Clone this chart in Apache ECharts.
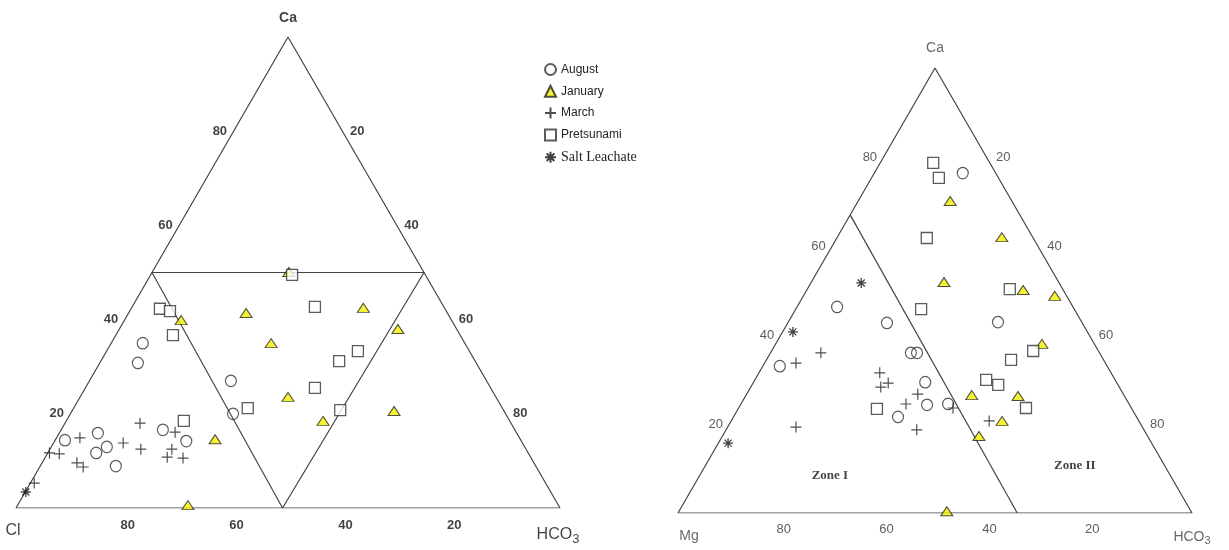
<!DOCTYPE html>
<html>
<head>
<meta charset="utf-8">
<script src="https://cdn.jsdelivr.net/npm/echarts@6/dist/echarts.min.js"></script>
<style>
  html, body { margin: 0; padding: 0; background: #fff; }
  #chart { width: 1229px; height: 550px; }
</style>
</head>
<body>
<div id="chart"></div>
<script>
// values, each point is [Ca %, HCO3 %], the third part is 100 - Ca - HCO3
// left diagram: Ca / Cl / HCO3
const augustL = [[35.0, 5.8], [30.8, 7.0], [27.0, 26.0], [20.0, 29.9], [14.4, 1.8], [15.9, 7.1], [13.0, 10.2], [11.7, 8.9], [8.9, 13.9], [16.6, 18.7], [14.2, 24.2]]
const januaryL = [[50.1, 25.1], [39.9, 10.4], [41.4, 21.6], [42.5, 42.6], [38.0, 51.2], [35.0, 29.4], [23.6, 38.2], [20.6, 59.2], [18.5, 47.2], [14.6, 29.3], [0.6, 31.3]]
const marchL = [[14.9, 4.3], [18.0, 13.8], [13.8, 12.8], [12.5, 16.7], [11.7, 0.3], [11.5, 2.2], [9.6, 6.4], [8.7, 8.0], [16.1, 21.2], [12.5, 22.4], [10.8, 22.4], [10.6, 25.4], [5.3, 0.7]]
const pretsunamiL = [[42.3, 5.3], [41.8, 7.4], [36.7, 10.5], [18.5, 21.6], [21.2, 32.0], [49.5, 26.0], [42.7, 33.6], [33.3, 46.2], [31.2, 43.8], [25.5, 42.2], [20.8, 49.2]]
const saltL = [[3.4, 0.1]]

// right diagram: Ca / Mg / HCO3
const augustR = [[76.4, 17.2], [42.9, 40.8], [42.7, 19.3], [46.3, 7.8], [33.0, 3.3], [36.0, 27.3], [36.0, 28.5], [29.4, 33.4], [24.3, 36.3], [21.6, 32.0], [24.5, 40.3]]
const januaryR = [[70.1, 17.9], [62.0, 32.0], [51.9, 25.8], [50.1, 42.1], [48.8, 48.9], [38.0, 51.8], [26.5, 43.9], [26.3, 53.0], [20.7, 52.7], [17.3, 49.9], [0.4, 52.1]]
const marchR = [[33.7, 6.1], [36.0, 9.8], [31.5, 23.5], [28.3, 25.3], [29.2, 26.3], [26.7, 33.3], [24.5, 32.1], [18.7, 37.1], [19.3, 13.3], [20.7, 50.2], [23.6, 41.7]]
const pretsunamiR = [[78.7, 10.3], [75.3, 13.1], [61.8, 17.5], [45.8, 24.4], [50.3, 39.4], [36.4, 50.9], [34.4, 47.6], [29.9, 45.0], [28.8, 47.9], [23.6, 55.9], [23.4, 27.0]]
const saltR = [[51.7, 9.8], [40.7, 2.0], [15.7, 1.9]]

// outline and dividing lines, same [Ca, HCO3] form
const outline = [[0, 0], [0, 100], [100, 0], [0, 0]]
const innerL = [[50, 0], [50, 50], [0, 49], [50, 0]]
const innerR = [[67, 0], [0, 66]]

const ticks = [20, 40, 60, 80]
const cornersL = ['Ca', 'Cl', 'HCO3']
const cornersR = ['Ca', 'Mg', 'HCO3']
const zoneNames = ['Zone I', 'Zone II']
const zoneSpots = [[8.5, 25.3], [10.6, 71.9]]

const SQ = Math.sqrt(3) / 2
const toXY = p => [p[1] + p[0] / 2, p[0] * SQ]

const plusPath = 'path://M5,0L5,10M0,5L10,5'
const starPath = 'path://M5,0L5,10M0,5L10,5M1.5,1.5L8.5,8.5M8.5,1.5L1.5,8.5'

const markStyle = {
  August: { symbol: 'circle', symbolSize: [11, 11.5], itemStyle: { color: 'rgba(255,255,255,0)', borderColor: '#333', borderWidth: 1.2 } },
  January: { symbol: 'triangle', symbolSize: [12, 9], itemStyle: { color: '#f2ee00', borderColor: '#222', borderWidth: 1 } },
  March: { symbol: plusPath, symbolSize: 11, itemStyle: { color: '#222', borderColor: '#222', borderWidth: 1.2 } },
  Pretsunami: { symbol: 'rect', symbolSize: 11, itemStyle: { color: '#fff', borderColor: '#333', borderWidth: 1.3 } },
  'Salt Leachate': { symbol: starPath, symbolSize: 10, itemStyle: { color: '#111', borderColor: '#111', borderWidth: 1.3 } }
}

const pointSeries = (name, pts, gi) => ({
  name,
  type: 'scatter',
  xAxisIndex: gi,
  yAxisIndex: gi,
  data: pts.map(toXY),
  z: 3,
  ...markStyle[name]
})

const lineSeries = (pts, gi) => ({
  type: 'line',
  xAxisIndex: gi,
  yAxisIndex: gi,
  data: pts.map(toXY),
  symbol: 'none',
  silent: true,
  z: 1,
  lineStyle: { color: '#444', width: 1.2 }
})

// text placed at ternary spots
const textSeries = (items, gi, label) => ({
  type: 'scatter',
  xAxisIndex: gi,
  yAxisIndex: gi,
  symbolSize: 1,
  silent: true,
  itemStyle: { color: 'rgba(0,0,0,0)' },
  data: items.map(d => ({ value: toXY(d.p), name: String(d.text), label: d.label || {} })),
  label: Object.assign({ show: true, formatter: '{b}' }, label)
})

const hcoRich = (size, color) => ({
  formatter: '{a|HCO}{s|3}',
  rich: {
    a: { fontSize: size, color, fontFamily: 'Liberation Sans' },
    s: { fontSize: size - 3, color, fontFamily: 'Liberation Sans', padding: [size * 0.6, 0, 0, 0] }
  }
})

const tickStyleL = { fontFamily: 'Liberation Sans', fontWeight: 'bold', fontSize: 13, color: '#111' }
const tickStyleR = { fontFamily: 'Liberation Sans', fontSize: 13, color: '#333' }

const chart = echarts.init(document.getElementById('chart'))

chart.setOption({
  animation: false,
  backgroundColor: '#fff',
  grid: [
    { left: 16, top: 37, width: 544, height: 471 },
    { left: 678, top: 68, width: 514, height: 445 }
  ],
  xAxis: [0, 1].map(i => ({ gridIndex: i, type: 'value', min: 0, max: 100, show: false })),
  yAxis: [0, 1].map(i => ({ gridIndex: i, type: 'value', min: 0, max: 100 * SQ, show: false })),
  legend: {
    orient: 'vertical',
    left: 539,
    top: 58,
    itemWidth: 11,
    itemHeight: 11,
    itemGap: 8.8,
    textStyle: { fontFamily: 'Liberation Sans', fontSize: 12, color: '#222' },
    data: ['August', 'January', 'March', 'Pretsunami',
      { name: 'Salt Leachate', textStyle: { fontFamily: 'Liberation Serif', fontSize: 14, color: '#222' } }]
  },
  series: [
    lineSeries(outline, 0),
    lineSeries(innerL, 0),
    lineSeries(outline, 1),
    lineSeries(innerR, 1),

    pointSeries('August', augustL, 0),
    pointSeries('January', januaryL, 0),
    pointSeries('March', marchL, 0),
    pointSeries('Pretsunami', pretsunamiL, 0),
    pointSeries('Salt Leachate', saltL, 0),
    pointSeries('August', augustR, 1),
    pointSeries('January', januaryR, 1),
    pointSeries('March', marchR, 1),
    pointSeries('Pretsunami', pretsunamiR, 1),
    pointSeries('Salt Leachate', saltR, 1),

    // left diagram tick numbers
    textSeries(ticks.map(t => ({ p: [t, 0], text: t })), 0, { position: 'left', distance: 6, ...tickStyleL }),
    textSeries(ticks.map(t => ({ p: [100 - t, t], text: t })), 0, { position: 'right', distance: 7, ...tickStyleL }),
    textSeries(ticks.map(t => ({ p: [0, 100 - t], text: t })), 0, { position: 'bottom', distance: 10, offset: [3, 0], ...tickStyleL }),
    // right diagram tick numbers
    textSeries(ticks.map(t => ({ p: [t, 0], text: t })), 1, { position: 'left', distance: 6, ...tickStyleR }),
    textSeries(ticks.map(t => ({ p: [100 - t, t], text: t })), 1, { position: 'right', distance: 9, ...tickStyleR }),
    textSeries(ticks.map(t => ({ p: [0, 100 - t], text: t })), 1, { position: 'bottom', distance: 9, offset: [3, 0], ...tickStyleR }),

    // corner names
    textSeries([
      { p: [100, 0], text: cornersL[0], label: { position: 'top', distance: 11, fontWeight: 'bold', fontSize: 14 } },
      { p: [0, 0], text: cornersL[1], label: { position: 'bottom', distance: 14, offset: [-3, 0], fontSize: 16 } },
      { p: [0, 100], text: cornersL[2], label: { position: 'bottom', distance: 15, offset: [-2, 0], ...hcoRich(16, '#111') } }
    ], 0, { fontFamily: 'Liberation Sans', color: '#111' }),
    textSeries([
      { p: [100, 0], text: cornersR[0], label: { position: 'top', distance: 12, fontSize: 14 } },
      { p: [0, 0], text: cornersR[1], label: { position: 'bottom', distance: 16, offset: [11, 0], fontSize: 14 } },
      { p: [0, 100], text: cornersR[2], label: { position: 'bottom', distance: 14, offset: [0, 0], ...hcoRich(14, '#444') } }
    ], 1, { fontFamily: 'Liberation Sans', color: '#444' }),

    // zone names
    textSeries(zoneNames.map((z, i) => ({ p: zoneSpots[i], text: z })), 1,
      { position: 'inside', fontFamily: 'Liberation Serif', fontWeight: 'bold', fontSize: 13, color: '#111' })
  ]
})
</script>
</body>
</html>
